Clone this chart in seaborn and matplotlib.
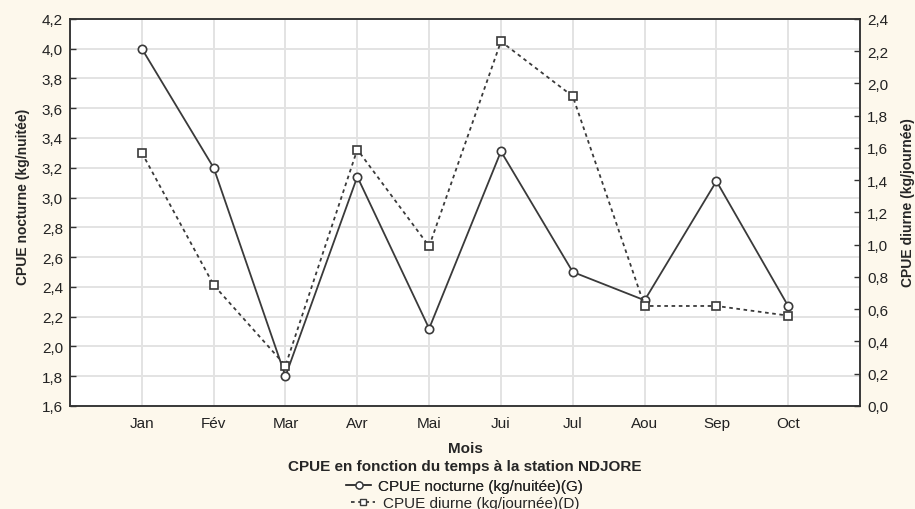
import numpy as np
import pandas as pd
import seaborn as sns
import matplotlib.pyplot as plt
from matplotlib.lines import Line2D

# data
mois = ["Jan", "Fév", "Mar", "Avr", "Mai", "Jui", "Jul", "Aou", "Sep", "Oct"]
cpue_nocturne = [4.00, 3.20, 1.80, 3.14, 2.12, 3.31, 2.50, 2.31, 3.11, 2.27]
cpue_diurne = [1.57, 0.75, 0.25, 1.59, 0.99, 2.26, 1.92, 0.62, 0.62, 0.56]

df = pd.DataFrame({
    "pos": np.arange(len(mois)),
    "mois": mois,
    "nocturne": cpue_nocturne,
    "diurne": cpue_diurne,
})

sns.set_theme(style="white")
plt.rcParams["font.family"] = ["Liberation Sans", "DejaVu Sans"]

bg = "#fdf8ec"
col = "#3a3a3a"
dash = (0, (2, 2))

fig = plt.figure(figsize=(9.15, 5.1), dpi=100, facecolor=bg)
ax = fig.add_axes([0.0765, 0.202, 0.8635, 0.759])
ax.set_facecolor("white")
ax2 = ax.twinx()

sns.lineplot(data=df, x="pos", y="nocturne", ax=ax, color=col, lw=1.3,
             marker="o", markersize=6, markerfacecolor="white",
             markeredgecolor=col, markeredgewidth=1.2)
sns.lineplot(data=df, x="pos", y="diurne", ax=ax2, color=col, lw=1.3,
             linestyle=dash, marker="s", markersize=6,
             markerfacecolor="white", markeredgecolor=col, markeredgewidth=1.2)

ax.set_xlim(-1, 10)
ax.set_ylim(1.6, 4.2)
ax2.set_ylim(0, 2.4)
ax.set_xticks(df["pos"])
ax.set_xticklabels(mois)
yt = np.round(np.arange(1.6, 4.21, 0.2), 1)
ax.set_yticks(yt)
ax.set_yticklabels([f"{v:.1f}".replace(".", ",") for v in yt])
yt2 = np.round(np.arange(0, 2.41, 0.2), 1)
ax2.set_yticks(yt2)
ax2.set_yticklabels([f"{v:.1f}".replace(".", ",") for v in yt2])

ax.grid(True, color="#e3e3e3", lw=1.4)
ax.set_axisbelow(True)
ax2.grid(False)

for a in (ax, ax2):
    for s in a.spines.values():
        s.set_color("#333333")
        s.set_linewidth(1.1)
    a.tick_params(direction="in", length=4, width=1, colors="#333333",
                  labelsize=11, labelcolor="#222222")
ax.tick_params(axis="x", pad=7)
ax.tick_params(axis="y", pad=5)
ax2.tick_params(axis="y", pad=5)

ax.set_xlabel("Mois", fontsize=11, fontweight="bold", labelpad=8)
ax.set_ylabel("CPUE nocturne (kg/nuitée)", fontsize=10, fontweight="bold")
ax.yaxis.set_label_coords(-0.051, 0.543)
ax2.set_ylabel("CPUE diurne (kg/journée)", fontsize=10, fontweight="bold", rotation=90)
ax2.yaxis.set_label_coords(1.052, 0.527)

fig.text(0.508, 0.084, "CPUE en fonction du temps à la station NDJORE",
         ha="center", va="center", fontsize=11, fontweight="bold")

h_noct = Line2D([], [], color=col, lw=1.3, marker="o", markersize=5,
                markerfacecolor="white", markeredgecolor=col)
h_diur = Line2D([], [], color=col, lw=1.3, linestyle=dash, marker="s",
                markersize=5, markerfacecolor="white", markeredgecolor=col)
leg_kw = dict(loc="center", frameon=False, fontsize=11, handlelength=1.6,
              handletextpad=0.5, borderpad=0)
leg1 = fig.legend([h_noct], ["CPUE nocturne (kg/nuitée)(G)"],
                  bbox_to_anchor=(0.508, 0.045), **leg_kw)
fig.add_artist(leg1)
fig.legend([h_diur], ["CPUE diurne (kg/journée)(D)"],
           bbox_to_anchor=(0.508, 0.012), **leg_kw)

fig.savefig("out.png", dpi=100, facecolor=bg)
